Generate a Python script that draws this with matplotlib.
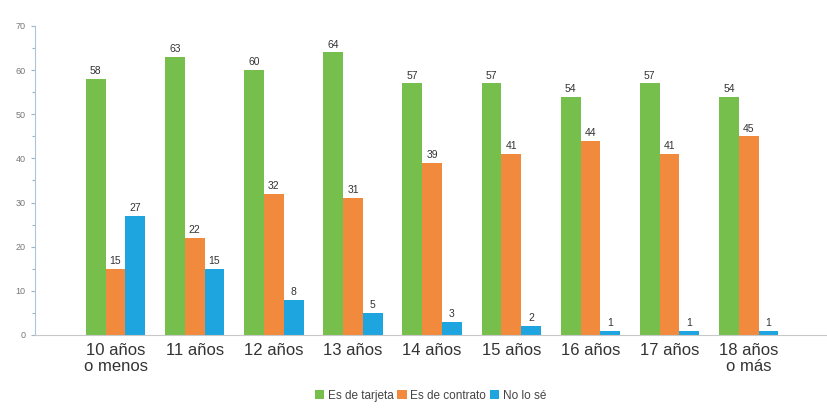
import numpy as np
import matplotlib
matplotlib.use('Agg')
import matplotlib.pyplot as plt
from matplotlib.ticker import MultipleLocator

# data
edades = ['10 años\no menos', '11 años', '12 años', '13 años', '14 años',
          '15 años', '16 años', '17 años', '18 años\no más']
tarjeta = [58, 63, 60, 64, 57, 57, 54, 57, 54]
contrato = [15, 22, 32, 31, 39, 41, 44, 41, 45]
no_se = [27, 15, 8, 5, 3, 2, 1, 1, 1]
series_names = ['Es de tarjeta', 'Es de contrato', 'No lo sé']

colores = ['#76bf4c', '#f28a3e', '#1ea4df']

plt.rcParams['font.family'] = ['Liberation Sans', 'DejaVu Sans']

fig = plt.figure(figsize=(8.28, 4.12), dpi=100)
ax = fig.add_axes([0.042, 0.187, 0.955, 0.75])

x = np.arange(len(edades))
w = 0.25
for k, (vals, nombre, c) in enumerate(zip([tarjeta, contrato, no_se], series_names, colores)):
    bars = ax.bar(x + (k - 1) * w, vals, w, color=c, label=nombre)
    for b, v in zip(bars, vals):
        ax.text(b.get_x() + b.get_width() / 2, v + 0.6, str(v),
                ha='center', va='bottom', fontsize=7.5, color='#333333')

ax.set_xlim(-1.02, 8.97)
ax.set_ylim(0, 70)
ax.yaxis.set_major_locator(MultipleLocator(10))
ax.yaxis.set_minor_locator(MultipleLocator(5))
ax.tick_params(axis='y', which='both', labelsize=6.5, colors='#9fb6c8',
               labelcolor='#777777', length=3, width=0.8)
ax.tick_params(axis='y', which='minor', length=2)

ax.set_xticks(x)
ax.set_xticklabels(edades, fontsize=12, color='#333333', linespacing=1.1)
ax.tick_params(axis='x', length=0, pad=6)

for s in ['top', 'right']:
    ax.spines[s].set_visible(False)
ax.spines['left'].set_color('#a9c6de')
ax.spines['bottom'].set_color('#c8c8c8')

fig.legend(loc='center', bbox_to_anchor=(0.52, 0.04), ncol=3, frameon=False,
           fontsize=8.5, handlelength=0.8, handleheight=0.8, handletextpad=0.3,
           columnspacing=0.3, labelcolor='#444444')

fig.savefig('out.png', dpi=100, facecolor='white')
